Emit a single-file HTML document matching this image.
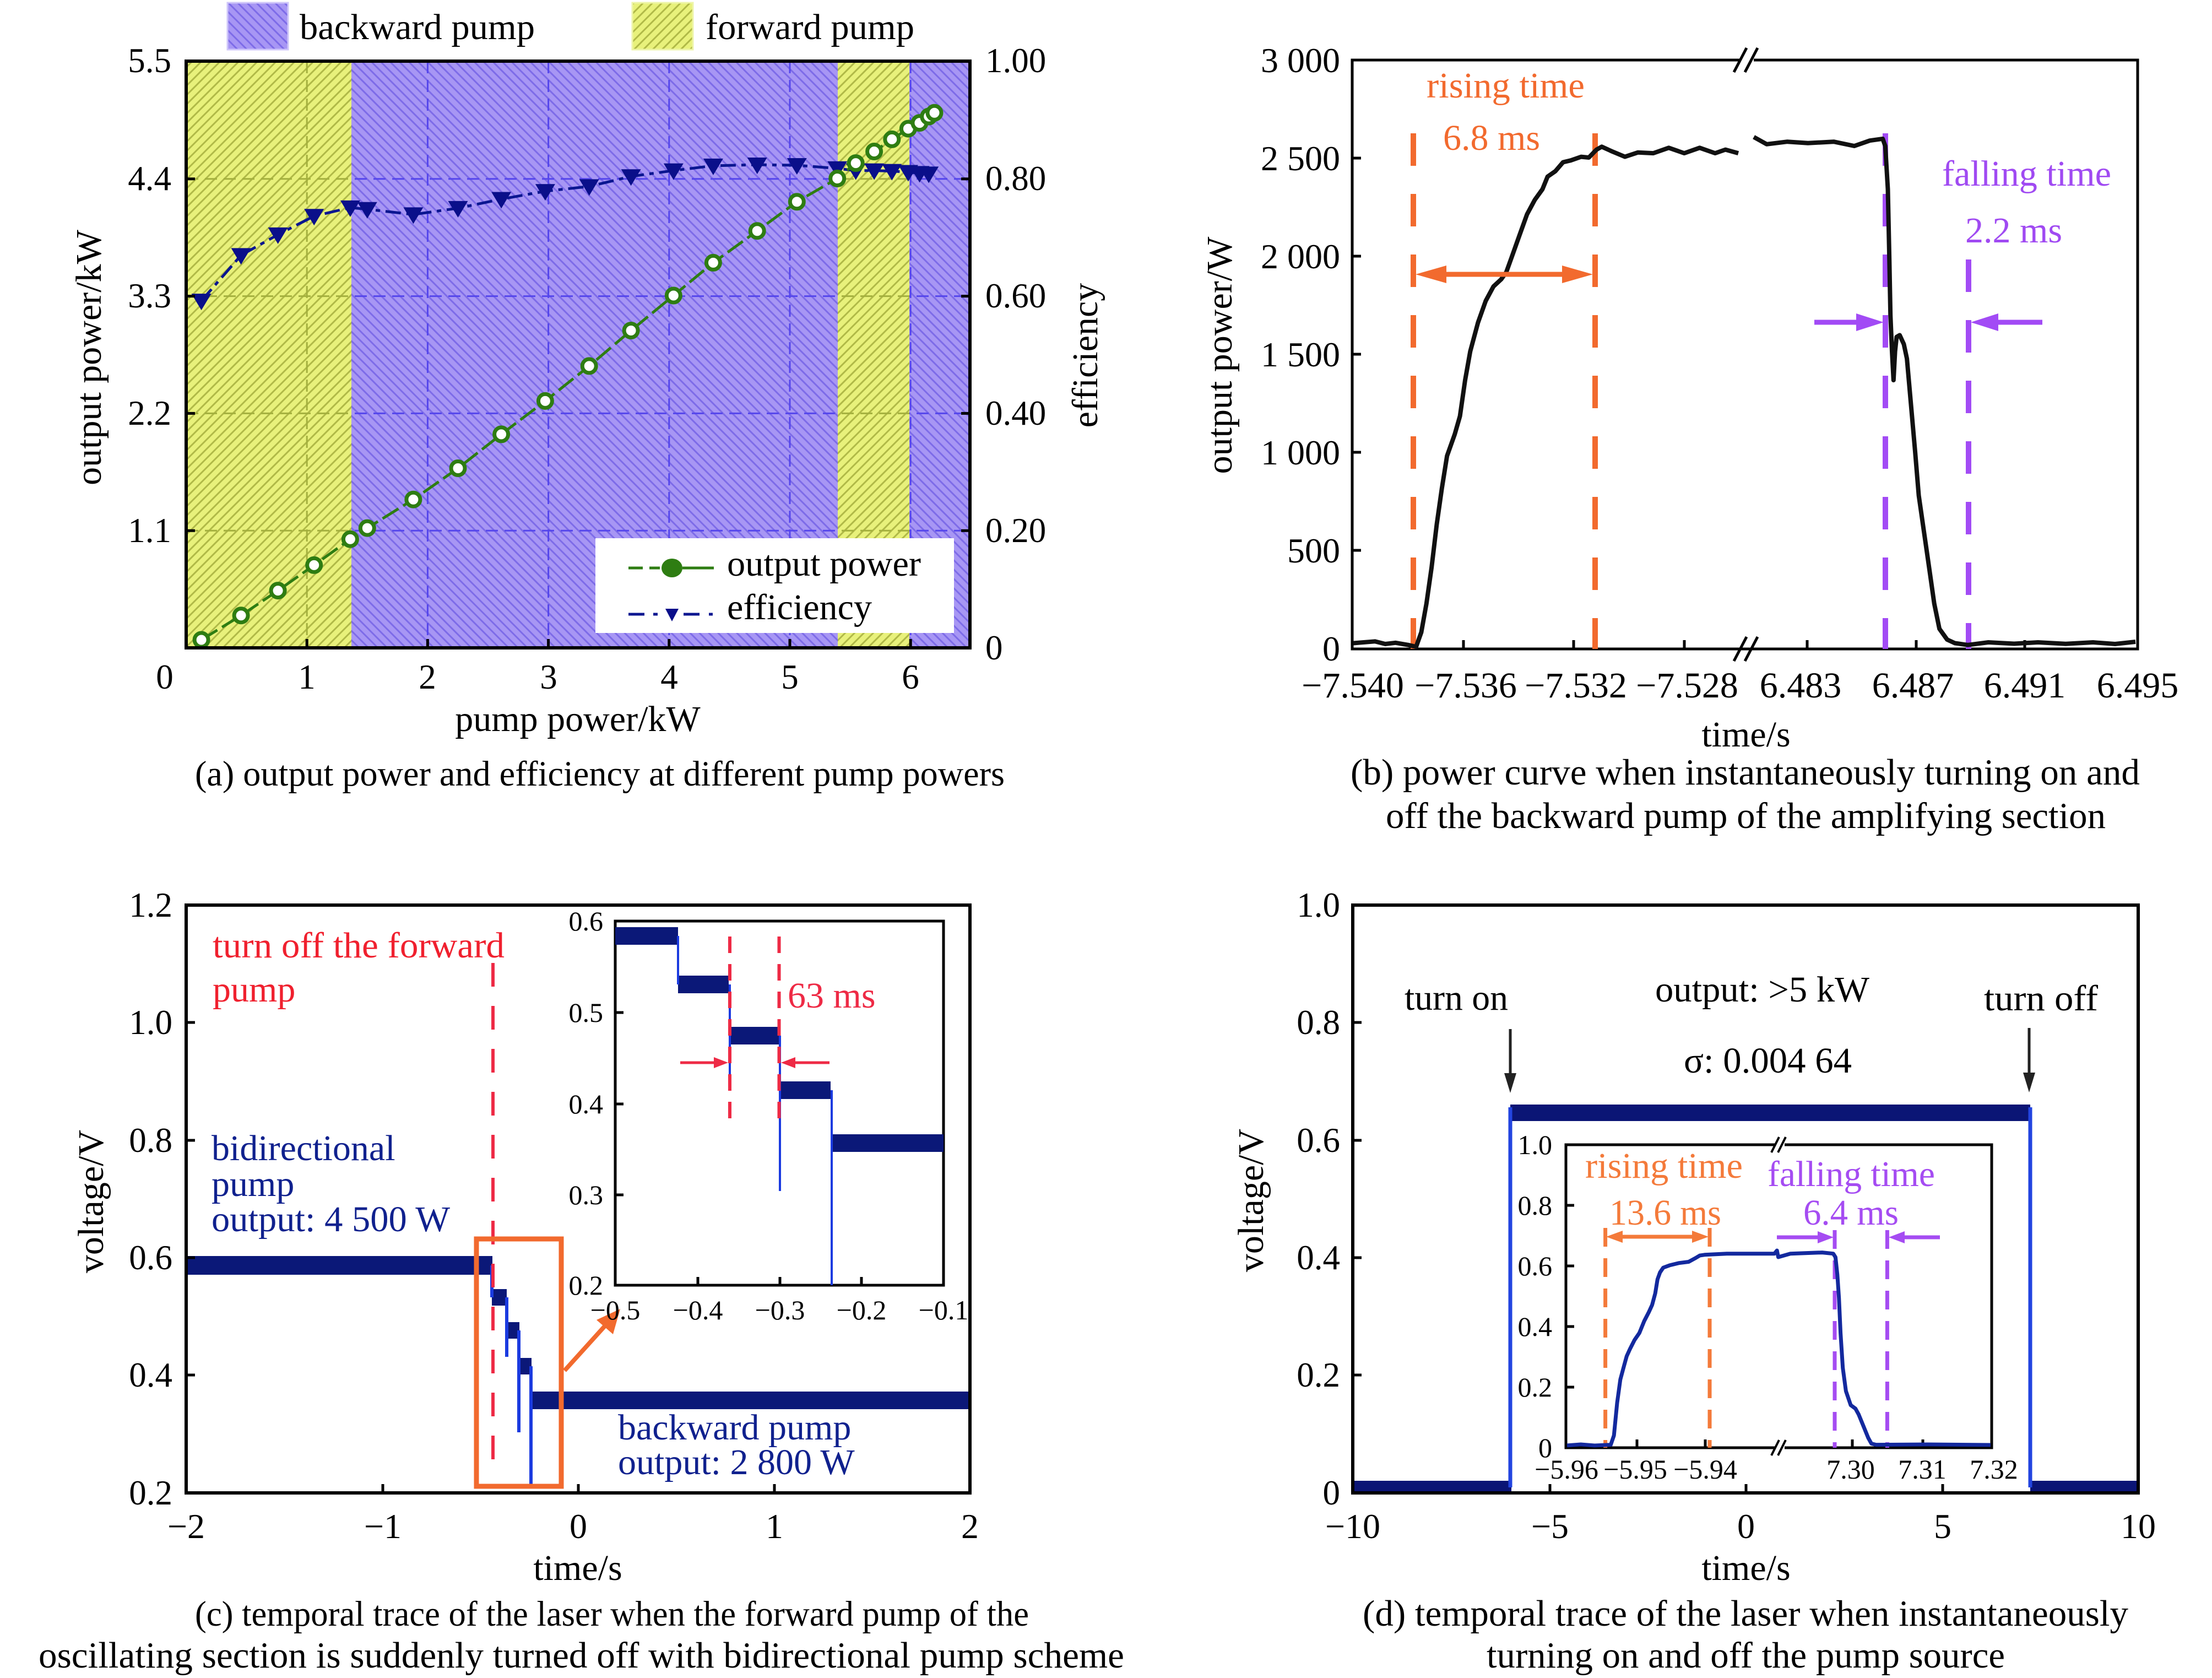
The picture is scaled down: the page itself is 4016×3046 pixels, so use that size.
<!DOCTYPE html>
<html><head><meta charset="utf-8">
<style>
html,body{margin:0;padding:0;background:#fff;}
svg{display:block;}
text{font-family:"Liberation Serif","Times New Roman",serif;}
</style></head><body>
<svg xmlns="http://www.w3.org/2000/svg" width="4016" height="3046" viewBox="0 0 4016 3046">
<defs>
  <pattern id="pY" patternUnits="userSpaceOnUse" width="12" height="12" patternTransform="rotate(45)">
    <rect width="12" height="12" fill="#E8F17B"/>
    <rect width="3" height="12" fill="#B0B947"/>
  </pattern>
  <pattern id="pP" patternUnits="userSpaceOnUse" width="12" height="12" patternTransform="rotate(-45)">
    <rect width="12" height="12" fill="#A796F4"/>
    <rect width="3" height="12" fill="#7D6BE8"/>
  </pattern>
  <clipPath id="cY">
    <rect x="338" y="111" width="300" height="1065"/>
    <rect x="1521" y="111" width="130" height="1065"/>
  </clipPath>
  <clipPath id="cP">
    <rect x="638" y="111" width="883" height="1065"/>
    <rect x="1651" y="111" width="110" height="1065"/>
  </clipPath>
  <path id="tri" d="M-18,-13 L18,-13 L0,17 Z"/>
</defs>
<rect width="4016" height="3046" fill="#fff"/>

<!-- ================= PANEL (a) ================= -->
<rect x="338" y="111" width="300" height="1065" fill="url(#pY)"/>
<rect x="638" y="111" width="883" height="1065" fill="url(#pP)"/>
<rect x="1521" y="111" width="130" height="1065" fill="url(#pY)"/>
<rect x="1651" y="111" width="110" height="1065" fill="url(#pP)"/>
<g clip-path="url(#cY)" stroke="#A4B03E" stroke-width="3" stroke-dasharray="22 12" fill="none">
  <path d="M557.2 111V1176 M776.4 111V1176 M995.6 111V1176 M1214.8 111V1176 M1434 111V1176 M1653.2 111V1176 M338 324.8H1761 M338 537.6H1761 M338 750.4H1761 M338 963.2H1761"/>
</g>
<g clip-path="url(#cP)" stroke="#5546EC" stroke-width="3" stroke-dasharray="22 12" fill="none">
  <path d="M557.2 111V1176 M776.4 111V1176 M995.6 111V1176 M1214.8 111V1176 M1434 111V1176 M1653.2 111V1176 M338 324.8H1761 M338 537.6H1761 M338 750.4H1761 M338 963.2H1761"/>
</g>
<!-- efficiency line -->
<polyline fill="none" stroke="#0A1690" stroke-width="5" stroke-dasharray="28 10 8 10"
 points="365.6,546.1 437.6,463.4 504.6,425.9 570.2,392.3 635.9,376.9 666.8,379.8 750.4,389.4 831.5,377.9 910.1,361.5 989.9,347.1 1069.7,338.4 1145.6,320.2 1222.8,309.6 1294.9,300.9 1374.7,299.0 1446.8,300.0 1520.2,305.8 1553.7,309.6 1587.1,309.6 1619.3,310.6 1648.9,312.5 1669.5,314.4 1686.2,315.4"/>
<!-- output power line -->
<polyline fill="none" stroke="#2E7D12" stroke-width="5" stroke-dasharray="34 10"
 points="365.6,1161.5 437.6,1117.3 504.6,1072.1 570.2,1025.9 635.9,978.8 666.8,958.6 750.4,906.7 831.5,850.0 910.1,788.4 989.9,727.9 1069.7,664.4 1145.6,600.0 1222.8,536.5 1294.9,476.9 1374.7,419.2 1446.8,366.3 1520.2,324.0 1553.7,296.1 1587.1,275.0 1619.3,252.9 1648.9,233.6 1669.5,223.1 1686.2,211.5 1696.5,204.8"/>
<g fill="#0A0F8A">
  <use href="#tri" x="365.6" y="546.1"/><use href="#tri" x="437.6" y="463.4"/><use href="#tri" x="504.6" y="425.9"/>
  <use href="#tri" x="570.2" y="392.3"/><use href="#tri" x="635.9" y="376.9"/><use href="#tri" x="666.8" y="379.8"/>
  <use href="#tri" x="750.4" y="389.4"/><use href="#tri" x="831.5" y="377.9"/><use href="#tri" x="910.1" y="361.5"/>
  <use href="#tri" x="989.9" y="347.1"/><use href="#tri" x="1069.7" y="338.4"/><use href="#tri" x="1145.6" y="320.2"/>
  <use href="#tri" x="1222.8" y="309.6"/><use href="#tri" x="1294.9" y="300.9"/><use href="#tri" x="1374.7" y="299.0"/>
  <use href="#tri" x="1446.8" y="300.0"/><use href="#tri" x="1520.2" y="305.8"/><use href="#tri" x="1553.7" y="309.6"/>
  <use href="#tri" x="1587.1" y="309.6"/><use href="#tri" x="1619.3" y="310.6"/><use href="#tri" x="1648.9" y="312.5"/>
  <use href="#tri" x="1669.5" y="314.4"/><use href="#tri" x="1686.2" y="315.4"/>
</g>
<g fill="#fff" stroke="#2E7D12" stroke-width="7">
  <circle cx="365.6" cy="1161.5" r="12.5"/><circle cx="437.6" cy="1117.3" r="12.5"/><circle cx="504.6" cy="1072.1" r="12.5"/>
  <circle cx="570.2" cy="1025.9" r="12.5"/><circle cx="635.9" cy="978.8" r="12.5"/><circle cx="666.8" cy="958.6" r="12.5"/>
  <circle cx="750.4" cy="906.7" r="12.5"/><circle cx="831.5" cy="850.0" r="12.5"/><circle cx="910.1" cy="788.4" r="12.5"/>
  <circle cx="989.9" cy="727.9" r="12.5"/><circle cx="1069.7" cy="664.4" r="12.5"/><circle cx="1145.6" cy="600.0" r="12.5"/>
  <circle cx="1222.8" cy="536.5" r="12.5"/><circle cx="1294.9" cy="476.9" r="12.5"/><circle cx="1374.7" cy="419.2" r="12.5"/>
  <circle cx="1446.8" cy="366.3" r="12.5"/><circle cx="1520.2" cy="324.0" r="12.5"/><circle cx="1553.7" cy="296.1" r="12.5"/>
  <circle cx="1587.1" cy="275.0" r="12.5"/><circle cx="1619.3" cy="252.9" r="12.5"/><circle cx="1648.9" cy="233.6" r="12.5"/>
  <circle cx="1669.5" cy="223.1" r="12.5"/><circle cx="1686.2" cy="211.5" r="12.5"/><circle cx="1696.5" cy="204.8" r="12.5"/>
</g>
<!-- inner legend -->
<rect x="1081" y="977" width="651" height="172" fill="#fff"/>
<path d="M1141 1031H1167 M1179 1031H1198 M1239 1031H1296" stroke="#2E7D12" stroke-width="5" fill="none"/>
<ellipse cx="1220" cy="1031" rx="19" ry="17" fill="#2E7D12"/>
<text x="1320" y="1045" font-size="66" textLength="352" lengthAdjust="spacingAndGlyphs">output power</text>
<path d="M1141 1115H1170 M1186 1115H1194 M1241 1115H1270 M1287 1115H1294" stroke="#0A1690" stroke-width="5" fill="none"/>
<path d="M1208 1105 L1232 1105 L1220 1128 Z" fill="#0A0F8A"/>
<text x="1320" y="1124" font-size="66" textLength="263" lengthAdjust="spacingAndGlyphs">efficiency</text>
<!-- axes -->
<rect x="338" y="111" width="1423" height="1065" fill="none" stroke="#000" stroke-width="6"/>
<path d="M338 324.8H354 M338 537.6H354 M338 750.4H354 M338 963.2H354 M1761 324.8H1745 M1761 537.6H1745 M1761 750.4H1745 M1761 963.2H1745 M557.2 1176V1160 M776.4 1176V1160 M995.6 1176V1160 M1214.8 1176V1160 M1434 1176V1160 M1653.2 1176V1160" stroke="#000" stroke-width="5"/>
<g font-size="63" text-anchor="end">
  <text x="311" y="131">5.5</text><text x="311" y="345">4.4</text><text x="311" y="558">3.3</text>
  <text x="311" y="771">2.2</text><text x="311" y="984">1.1</text>
</g>
<g font-size="63">
  <text x="1789" y="131">1.00</text><text x="1789" y="345">0.80</text><text x="1789" y="558">0.60</text>
  <text x="1789" y="771">0.40</text><text x="1789" y="984">0.20</text><text x="1789" y="1197">0</text>
</g>
<g font-size="63" text-anchor="middle">
  <text x="299" y="1250">0</text><text x="557" y="1250">1</text><text x="776" y="1250">2</text>
  <text x="996" y="1250">3</text><text x="1215" y="1250">4</text><text x="1434" y="1250">5</text><text x="1653" y="1250">6</text>
</g>
<text transform="translate(183,649) rotate(-90)" font-size="66" text-anchor="middle">output power/kW</text>
<text transform="translate(1992,645) rotate(-90)" font-size="66" text-anchor="middle">efficiency</text>
<text x="1049" y="1327" font-size="66" text-anchor="middle">pump power/kW</text>
<text x="354" y="1426" font-size="65" textLength="1470" lengthAdjust="spacingAndGlyphs">(a) output power and efficiency at different pump powers</text>
<!-- top legend -->
<rect x="413" y="5" width="110" height="85" fill="url(#pP)" stroke="#CFC6FA" stroke-width="3"/>
<text x="544" y="71" font-size="66" textLength="427" lengthAdjust="spacingAndGlyphs">backward pump</text>
<rect x="1148" y="5" width="110" height="85" fill="url(#pY)" stroke="#EEF5A8" stroke-width="3"/>
<text x="1281" y="71" font-size="66" textLength="379" lengthAdjust="spacingAndGlyphs">forward pump</text>

<!-- ================= PANEL (b) ================= -->
<rect x="2455" y="109" width="1426" height="1069" fill="none" stroke="#000" stroke-width="5"/>
<rect x="3158" y="100" width="26" height="18" fill="#fff"/>
<path d="M3148 131 L3171 87 M3168 131 L3191 87" stroke="#000" stroke-width="5"/>
<path d="M3148 1200 L3171 1156 M3168 1200 L3191 1156" stroke="#000" stroke-width="5"/>
<path d="M2455 287H2471 M2455 465H2471 M2455 643H2471 M2455 821H2471 M2455 999H2471 M2657 1178V1162 M2857 1178V1162 M3058 1178V1162 M3281 1178V1162 M3479 1178V1162 M3676 1178V1162" stroke="#000" stroke-width="5"/>
<g font-size="64" text-anchor="end">
  <text x="2433" y="131">3 000</text><text x="2433" y="309">2 500</text><text x="2433" y="487">2 000</text>
  <text x="2433" y="665">1 500</text><text x="2433" y="843">1 000</text><text x="2433" y="1021">500</text><text x="2433" y="1199">0</text>
</g>
<g font-size="66" text-anchor="middle">
  <text x="2456" y="1266">−7.540</text><text x="2661" y="1266">−7.536</text><text x="2861" y="1266">−7.532</text>
  <text x="3063" y="1266">−7.528</text><text x="3269" y="1266">6.483</text><text x="3473" y="1266">6.487</text>
  <text x="3676" y="1266">6.491</text><text x="3881" y="1266">6.495</text>
</g>
<text transform="translate(2236,645) rotate(-90)" font-size="66" text-anchor="middle">output power/W</text>
<text x="3170" y="1355" font-size="66" text-anchor="middle">time/s</text>
<text x="2452" y="1424" font-size="67" textLength="1433" lengthAdjust="spacingAndGlyphs">(b) power curve when instantaneously turning on and</text>
<text x="2516" y="1503" font-size="67" textLength="1307" lengthAdjust="spacingAndGlyphs">off the backward pump of the amplifying section</text>
<!-- dashed markers -->
<g stroke-width="10" stroke-dasharray="59 51" fill="none">
  <path d="M2566 242V1178 M2896 242V1178" stroke="#F26A2E"/>
  <path d="M3423 242V1178 M3574 471V1178" stroke="#A24BF5"/>
</g>
<!-- curve -->
<polyline fill="none" stroke="#111" stroke-width="8" stroke-linejoin="round"
 points="2457,1167.5 2496.2,1164.3 2515,1169 2533.6,1166.8 2557,1170.8 2571,1174.1 2580.4,1147.9 2589.8,1095.6 2599.1,1030.2 2608.5,951.7 2617.8,886.3 2627.2,827.5 2641.2,788.2 2650.6,755.5 2660,690.1 2669.3,637.8 2683.4,585.5 2697.4,546.2 2711.4,520.1 2725.5,507 2734.8,493.9 2744.2,467.8 2758.2,428.5 2772.3,389.3 2786.3,363.1 2800.4,343.5 2809.7,320.6 2823.8,310.8 2837.8,294.5 2851.8,291.2 2870.6,284.6 2884.6,286 2898.6,271.6 2908,266.3 2926.7,274.8 2950.1,284.6 2973.5,276.8 3001.6,278.1 3029.7,268.3 3057.8,278.1 3085.8,268.3 3113.9,278.1 3132.6,271.6 3156,278.1"/>
<polyline fill="none" stroke="#111" stroke-width="8" stroke-linejoin="round"
 points="3184.1,248.7 3207.5,261.8 3245,257.2 3282.4,259.8 3329.2,257.2 3366.6,265 3394.7,255.2 3418.1,251.9 3422.8,265 3427.5,343.5 3430.3,474.3 3432.2,572.4 3435,637.8 3437.8,690.1 3440.6,637.8 3443.4,611.6 3449,608.4 3456.5,624.7 3462.1,650.9 3469.6,735.9 3477.1,820.9 3483.6,899.4 3493,964.8 3502.4,1030.2 3511.7,1095.6 3521.1,1141.4 3535.1,1161 3549.2,1167.5 3572.6,1170.8 3610,1166 3656.8,1168.5 3700,1166 3750.4,1168.8 3800,1166 3840,1169 3877,1165"/>
<!-- arrows -->
<path d="M2600 498H2862" stroke="#F26A2E" stroke-width="9"/>
<path d="M2570 498 L2626 482 L2626 514 Z M2892 498 L2836 482 L2836 514 Z" fill="#F26A2E"/>
<path d="M3294 585H3375 M3708 585H3622" stroke="#A24BF5" stroke-width="9"/>
<path d="M3420 585 L3370 569 L3370 601 Z M3578 585 L3628 569 L3628 601 Z" fill="#A24BF5"/>
<text x="2590" y="177" font-size="66" fill="#F26A2E" textLength="287" lengthAdjust="spacingAndGlyphs">rising time</text>
<text x="2620" y="272" font-size="66" fill="#F26A2E">6.8 ms</text>
<text x="3526" y="337" font-size="66" fill="#A04AF2" textLength="307" lengthAdjust="spacingAndGlyphs">falling time</text>
<text x="3568" y="440" font-size="66" fill="#A04AF2">2.2 ms</text>

<!-- ================= PANEL (c) ================= -->
<!-- main trace -->
<g fill="#0B1878">
  <rect x="338" y="2280" width="556" height="34"/>
  <rect x="893" y="2340" width="27" height="30"/>
  <rect x="920" y="2400" width="23" height="30"/>
  <rect x="942" y="2465" width="23" height="30"/>
  <rect x="965" y="2526" width="796" height="32"/>
</g>
<path d="M893 2297V2355 M920 2355V2463 M942 2415V2600 M964 2480V2697" stroke="#1B3BE0" stroke-width="6" fill="none"/>
<path d="M895 1748V2663" stroke="#EE2A45" stroke-width="6" stroke-dasharray="43 35" fill="none"/>
<rect x="865" y="2249" width="154" height="449" fill="none" stroke="#F26A2E" stroke-width="9"/>
<path d="M1025 2488 L1100 2405" stroke="#F26A2E" stroke-width="8"/>
<path d="M1126 2376 L1083 2396 L1113 2422 Z" fill="#F26A2E"/>
<!-- axes -->
<rect x="338" y="1643" width="1423" height="1067" fill="none" stroke="#000" stroke-width="6"/>
<path d="M338 1856H354 M338 2070H354 M338 2283H354 M338 2496H354 M695 2710V2694 M1050 2710V2694 M1406 2710V2694" stroke="#000" stroke-width="5"/>
<g font-size="63" text-anchor="end">
  <text x="313" y="1664">1.2</text><text x="313" y="1877">1.0</text><text x="313" y="2091">0.8</text>
  <text x="313" y="2304">0.6</text><text x="313" y="2517">0.4</text><text x="313" y="2731">0.2</text>
</g>
<g font-size="64" text-anchor="middle">
  <text x="338" y="2792">−2</text><text x="695" y="2792">−1</text><text x="1050" y="2792">0</text>
  <text x="1406" y="2792">1</text><text x="1761" y="2792">2</text>
</g>
<text transform="translate(187,2181) rotate(-90)" font-size="66" text-anchor="middle">voltage/V</text>
<text x="1049" y="2868" font-size="66" text-anchor="middle">time/s</text>
<text x="354" y="2951" font-size="65" textLength="1514" lengthAdjust="spacingAndGlyphs">(c) temporal trace of the laser when the forward pump of the</text>
<text x="70" y="3027" font-size="67" textLength="1971" lengthAdjust="spacingAndGlyphs">oscillating section is suddenly turned off with bidirectional pump scheme</text>
<text x="386" y="1738" font-size="66" fill="#F0202E" textLength="530" lengthAdjust="spacingAndGlyphs">turn off the forward</text>
<text x="386" y="1818" font-size="66" fill="#F0202E">pump</text>
<g font-size="66" fill="#10218E">
  <text x="384" y="2106">bidirectional</text>
  <text x="384" y="2171">pump</text>
  <text x="384" y="2235" textLength="433" lengthAdjust="spacingAndGlyphs">output: 4 500 W</text>
  <text x="1122" y="2613">backward pump</text>
  <text x="1122" y="2676">output:  2 800 W</text>
</g>
<!-- inset (c) -->
<rect x="1117" y="1672" width="596" height="661" fill="#fff" stroke="#000" stroke-width="5"/>
<g fill="#0B1878">
  <rect x="1117" y="1683" width="114" height="32"/>
  <rect x="1231" y="1771" width="92" height="32"/>
  <rect x="1325" y="1864" width="89" height="32"/>
  <rect x="1418" y="1963" width="90" height="32"/>
  <rect x="1512" y="2059" width="201" height="32"/>
</g>
<path d="M1231 1699V1787 M1325 1787V1950 M1416 1880V2162 M1510 1979V2333" stroke="#1B3BE0" stroke-width="4" fill="none"/>
<path d="M1325 1700V2035 M1414.5 1700V2030" stroke="#EE2A45" stroke-width="6" stroke-dasharray="30 20" fill="none"/>
<path d="M1235 1929H1300 M1506 1929H1440" stroke="#EE2A45" stroke-width="5"/>
<path d="M1322 1929 L1296 1919 L1296 1939 Z M1418 1929 L1444 1919 L1444 1939 Z" fill="#EE2A45"/>
<text x="1430" y="1829" font-size="66" fill="#EE2A45">63 ms</text>
<path d="M1117 1838H1132 M1117 2004H1132 M1117 2169H1132 M1267 2333V2318 M1416 2333V2318 M1564 2333V2318" stroke="#000" stroke-width="5"/>
<g font-size="50" text-anchor="end">
  <text x="1095" y="1689">0.6</text><text x="1095" y="1855">0.5</text><text x="1095" y="2021">0.4</text>
  <text x="1095" y="2186">0.3</text><text x="1095" y="2350">0.2</text>
</g>
<g font-size="50" text-anchor="middle">
  <text x="1117" y="2395">−0.5</text><text x="1267" y="2395">−0.4</text><text x="1416" y="2395">−0.3</text>
  <text x="1564" y="2395">−0.2</text><text x="1713" y="2395">−0.1</text>
</g>

<!-- ================= PANEL (d) ================= -->
<g fill="#0B1575">
  <rect x="2456" y="2688" width="288" height="22"/>
  <rect x="3686" y="2688" width="196" height="22"/>
  <rect x="2742" y="2005" width="944" height="30"/>
</g>
<path d="M2742 2700V2010 M3686 2010V2700" stroke="#2244E0" stroke-width="7" fill="none"/>
<rect x="2456" y="1643" width="1426" height="1067" fill="none" stroke="#000" stroke-width="6"/>
<path d="M2456 1856H2472 M2456 2070H2472 M2456 2283H2472 M2456 2496H2472 M2814 2710V2694 M3170 2710V2694 M3527 2710V2694" stroke="#000" stroke-width="5"/>
<g font-size="63" text-anchor="end">
  <text x="2433" y="1664">1.0</text><text x="2433" y="1877">0.8</text><text x="2433" y="2091">0.6</text>
  <text x="2433" y="2304">0.4</text><text x="2433" y="2517">0.2</text><text x="2433" y="2731">0</text>
</g>
<g font-size="64" text-anchor="middle">
  <text x="2456" y="2792">−10</text><text x="2814" y="2792">−5</text><text x="3170" y="2792">0</text>
  <text x="3527" y="2792">5</text><text x="3882" y="2792">10</text>
</g>
<text transform="translate(2293,2179) rotate(-90)" font-size="66" text-anchor="middle">voltage/V</text>
<text x="3170" y="2868" font-size="66" text-anchor="middle">time/s</text>
<text x="2474" y="2951" font-size="67" textLength="1390" lengthAdjust="spacingAndGlyphs">(d) temporal trace of the laser when instantaneously</text>
<text x="2699" y="3027" font-size="67" textLength="941" lengthAdjust="spacingAndGlyphs">turning on and off the pump source</text>
<!-- annotations -->
<text x="2550" y="1833" font-size="66" textLength="188" lengthAdjust="spacingAndGlyphs">turn on</text>
<text x="3602" y="1834" font-size="66" textLength="207" lengthAdjust="spacingAndGlyphs">turn off</text>
<text x="3005" y="1818" font-size="66" textLength="389" lengthAdjust="spacingAndGlyphs">output: &gt;5 kW</text>
<text x="3057" y="1947" font-size="66" textLength="305" lengthAdjust="spacingAndGlyphs">σ: 0.004 64</text>
<path d="M2742 1868V1952 M3684 1866V1950" stroke="#222" stroke-width="5"/>
<path d="M2742 1984 L2731 1948 L2753 1948 Z M3684 1983 L3673 1947 L3695 1947 Z" fill="#222"/>
<!-- inset (d) -->
<rect x="2843" y="2078" width="773" height="550" fill="#fff" stroke="#000" stroke-width="5"/>
<rect x="3222" y="2068" width="18" height="20" fill="#fff"/>
<rect x="3222" y="2618" width="18" height="20" fill="#fff"/>
<path d="M3216 2092 L3230 2064 M3228 2092 L3242 2064 M3216 2642 L3230 2614 M3228 2642 L3242 2614" stroke="#000" stroke-width="4"/>
<path d="M2843 2188H2858 M2843 2298H2858 M2843 2408H2858 M2843 2518H2858 M2972 2628V2613 M3096 2628V2613 M3363 2628V2613 M3491 2628V2613" stroke="#000" stroke-width="5"/>
<g font-size="50" text-anchor="end">
  <text x="2818" y="2095">1.0</text><text x="2818" y="2205">0.8</text><text x="2818" y="2315">0.6</text>
  <text x="2818" y="2425">0.4</text><text x="2818" y="2535">0.2</text><text x="2818" y="2645">0</text>
</g>
<g font-size="50" text-anchor="middle">
  <text x="2844" y="2684">−5.96</text><text x="2969" y="2684">−5.95</text><text x="3096" y="2684">−5.94</text>
  <text x="3360" y="2684">7.30</text><text x="3490" y="2684">7.31</text><text x="3620" y="2684">7.32</text>
</g>
<g stroke-width="7" stroke-dasharray="34 21" fill="none">
  <path d="M2914.6 2229V2628 M3104 2229V2628" stroke="#F47A3A"/>
  <path d="M3331 2233V2628 M3426.4 2233V2628" stroke="#A54CF2"/>
</g>
<polyline fill="none" stroke="#13299E" stroke-width="7" stroke-linejoin="round"
 points="2845,2623.9 2870,2622 2895,2624 2924.4,2622.6 2930.2,2605.7 2936,2546.5 2941.8,2504.2 2947.5,2483 2953.3,2461.9 2959.1,2449.2 2967.7,2432.2 2976.4,2419.6 2985,2398.4 2993.7,2381.5 2999.5,2368.8 3005.2,2347.6 3009.3,2322.3 3013.9,2309.6 3019.7,2301.1 3031.2,2296.9 3048.5,2292.7 3065.8,2290.5 3077.4,2284.2 3086,2279.1 3094.7,2277.8 3135.1,2275.7 3221.6,2275.7 3226.2,2270 3228.5,2282 3250.5,2275.7 3308.2,2273.6 3328.3,2275.7 3332.4,2282.1 3335.8,2313.8 3338.7,2356.1 3341.6,2419.6 3345.7,2483 3351.4,2525.3 3360.1,2550.7 3368.7,2557 3374.5,2567.6 3383.2,2588.8 3391.8,2609.9 3397.6,2620.5 3406.2,2622.6 3500,2622 3614,2623"/>
<path d="M2940 2245H3075" stroke="#F47A3A" stroke-width="7"/>
<path d="M2916 2245 L2946 2234 L2946 2256 Z M3102 2245 L3072 2234 L3072 2256 Z" fill="#F47A3A"/>
<path d="M3226 2246H3305 M3522 2246H3452" stroke="#A54CF2" stroke-width="7"/>
<path d="M3329 2246 L3300 2235 L3300 2257 Z M3429 2246 L3458 2235 L3458 2257 Z" fill="#A54CF2"/>
<text x="2878" y="2138" font-size="66" fill="#F47A3A" textLength="286" lengthAdjust="spacingAndGlyphs">rising time</text>
<text x="2922" y="2223" font-size="66" fill="#F47A3A" textLength="203" lengthAdjust="spacingAndGlyphs">13.6 ms</text>
<text x="3209" y="2153" font-size="66" fill="#A54CF2" textLength="304" lengthAdjust="spacingAndGlyphs">falling time</text>
<text x="3274" y="2223" font-size="66" fill="#A54CF2" textLength="173" lengthAdjust="spacingAndGlyphs">6.4 ms</text>
</svg>
</body></html>
